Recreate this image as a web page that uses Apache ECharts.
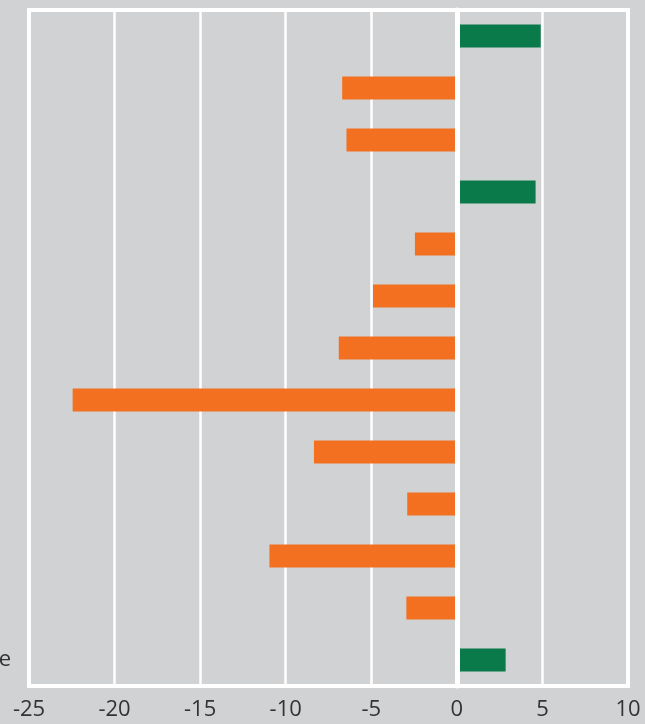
<!DOCTYPE html>
<html>
<head>
<meta charset="utf-8">
<script src="https://cdn.jsdelivr.net/npm/echarts@6/dist/echarts.min.js"></script>
<style>
html,body{margin:0;padding:0;background:#D1D2D4;}
#c{width:645px;height:724px;}
</style>
</head>
<body>
<div id="c"></div>
<script>
// Category labels: only the trailing fragment of the last one is visible in the reference
const categories = ['', '', '', '', '', '', '', '', '', '', '', '', 'e'];
const values = [4.9, -6.7, -6.45, 4.6, -2.45, -4.9, -6.9, -22.45, -8.35, -2.9, -10.95, -2.95, 2.85];
const xTicks = { min: -25, max: 10, interval: 5 };
const posColor = '#0A7A4A';
const negColor = '#F37021';

const chart = echarts.init(document.getElementById('c'), null, { renderer: 'canvas' });
chart.setOption({
  backgroundColor: '#D1D2D4',
  animation: false,
  grid: {
    left: 29, right: 17, top: 10, bottom: 38,
    outerBoundsMode: 'none',
    containLabel: false,
    show: true, backgroundColor: '#D1D2D4',
    borderColor: '#FFFFFF', borderWidth: 4
  },
  xAxis: {
    type: 'value',
    min: xTicks.min, max: xTicks.max, interval: xTicks.interval,
    axisLine: { show: false },
    axisTick: { show: false },
    splitLine: { show: true, lineStyle: { color: '#FFFFFF', width: 2.5 } },
    axisLabel: {
      color: '#333333', fontSize: 22, fontFamily: 'Open Sans', margin: 13
    }
  },
  yAxis: {
    type: 'category',
    data: categories,
    inverse: true,
    z: 5,
    axisLine: { show: true, onZero: true, lineStyle: { color: '#FFFFFF', width: 5 } },
    axisTick: { show: false },
    splitLine: { show: false },
    axisLabel: {
      color: '#333333', fontSize: 22, fontFamily: 'Open Sans', margin: 18
    }
  },
  series: [{
    type: 'bar',
    data: values.map(v => ({ value: v, itemStyle: { color: v >= 0 ? posColor : negColor } })),
    barWidth: 23
  }]
});
</script>
</body>
</html>
